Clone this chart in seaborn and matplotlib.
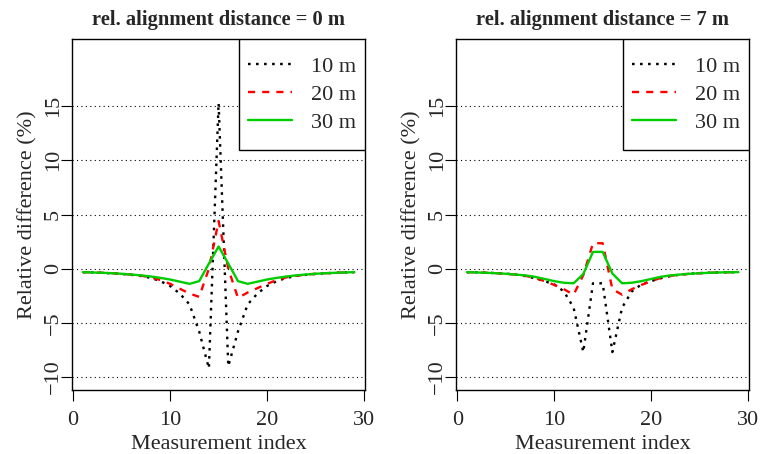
import numpy as np
import pandas as pd
import matplotlib.pyplot as plt
import seaborn as sns
from matplotlib.patches import Rectangle

# measurement positions
idx = list(range(1, 30))

# rel. alignment distance = 0 m
left_10 = [-0.32, -0.35, -0.39, -0.43, -0.49, -0.57, -0.68, -0.85, -1.15, -1.6,
           -2.3, -3.3, -5.8, -9.2, 15.3, -9.0, -5.8, -3.3, -2.3, -1.6,
           -1.15, -0.85, -0.68, -0.57, -0.49, -0.43, -0.39, -0.35, -0.32]
left_20 = [-0.32, -0.35, -0.38, -0.42, -0.47, -0.55, -0.65, -0.8, -1.05, -1.4,
           -1.85, -2.3, -2.6, 0.0, 4.4, 0.0, -2.7, -2.2, -1.8, -1.4,
           -1.05, -0.8, -0.65, -0.55, -0.47, -0.42, -0.38, -0.35, -0.32]
left_30 = [-0.32, -0.35, -0.38, -0.42, -0.47, -0.54, -0.62, -0.72, -0.85, -1.0,
           -1.2, -1.4, -1.15, 0.47, 2.05, 0.47, -1.15, -1.4, -1.2, -1.0,
           -0.85, -0.72, -0.62, -0.54, -0.47, -0.42, -0.38, -0.35, -0.32]

# rel. alignment distance = 7 m
right_10 = [-0.32, -0.34, -0.37, -0.41, -0.46, -0.55, -0.68, -0.88, -1.15, -1.45,
            -2.1, -3.6, -7.7, -1.35, -1.35, -7.7, -3.6, -2.1, -1.45, -1.15,
            -0.88, -0.68, -0.55, -0.46, -0.41, -0.37, -0.34, -0.33, -0.32]
right_20 = [-0.32, -0.35, -0.38, -0.42, -0.47, -0.55, -0.66, -0.85, -1.15, -1.5,
            -1.9, -2.4, -0.6, 2.35, 2.35, -1.9, -2.4, -1.9, -1.5, -1.15,
            -0.85, -0.66, -0.55, -0.47, -0.42, -0.38, -0.35, -0.33, -0.32]
right_30 = [-0.32, -0.35, -0.38, -0.42, -0.47, -0.54, -0.62, -0.75, -0.95, -1.15,
            -1.3, -1.35, -0.5, 1.55, 1.55, -0.45, -1.35, -1.3, -1.15, -0.95,
            -0.75, -0.62, -0.54, -0.47, -0.42, -0.38, -0.35, -0.33, -0.32]

labels = ['10 m', '20 m', '30 m']
titles = ['rel. alignment distance = 0 m', 'rel. alignment distance = 7 m']
panels = [[left_10, left_20, left_30], [right_10, right_20, right_30]]

colors = {'10 m': 'black', '20 m': '#FF0000', '30 m': '#00CD00'}
dashes = {'10 m': (1.1, 2.3), '20 m': (3.0, 3.0), '30 m': ''}

sns.set_style('white')
plt.rcParams['font.family'] = ['Liberation Serif', 'DejaVu Serif']

fig, axes = plt.subplots(1, 2, figsize=(7.61, 4.54), dpi=100)
fig.subplots_adjust(left=0.0946, right=0.9846, bottom=0.141, top=0.914, wspace=0.31)

for ax, title, series in zip(axes, titles, panels):
    df = pd.DataFrame({
        'Measurement index': idx * 3,
        'value': series[0] + series[1] + series[2],
        'dist': [l for l in labels for _ in idx],
    })
    sns.lineplot(data=df, x='Measurement index', y='value', hue='dist', style='dist',
                 palette=colors, dashes=dashes, linewidth=1.7, legend=False, ax=ax,
                 zorder=5)

    ax.set_xlim(-0.12, 30.12)
    ax.set_ylim(-11.2, 21.2)
    ax.set_xticks([0, 10, 20, 30])
    ax.set_yticks([-10, -5, 0, 5, 10, 15])
    ax.grid(axis='y', color='black', linestyle=(0, (1, 3)), linewidth=0.8)
    ax.grid(axis='x', visible=False)
    for s in ax.spines.values():
        s.set_color('black')
        s.set_linewidth(1.0)
    ax.tick_params(axis='both', direction='out', length=8, width=0.8, color='black',
                   labelsize=16, bottom=True, left=True)
    ax.tick_params(axis='x', pad=7)
    ax.tick_params(axis='y', pad=-1.5)
    for t in ax.get_yticklabels():
        t.set_rotation(90)
        t.set_va('center')
    ax.set_xlabel('Measurement index', fontsize=16, labelpad=3.5)
    ax.set_ylabel('Relative difference (%)', fontsize=16, labelpad=5)
    ax.set_title(title, fontsize=14.8, fontweight='bold', pad=10)

    # legend box
    bx, by, bw, bh = 0.57, 0.684, 0.43, 0.316
    ax.add_patch(Rectangle((bx, by), bw, bh, transform=ax.transAxes, facecolor='white',
                           edgecolor='black', linewidth=1.0, zorder=6))
    leg = ax.legend(ax.get_lines()[:3], labels, loc='center', bbox_to_anchor=(bx, by, bw, bh),
                    bbox_transform=ax.transAxes, frameon=False, fontsize=16,
                    handlelength=2.0, handletextpad=0.85, labelspacing=0.33, borderpad=0.2)
    leg.set_zorder(7)

fig.savefig('out.png', dpi=100)
